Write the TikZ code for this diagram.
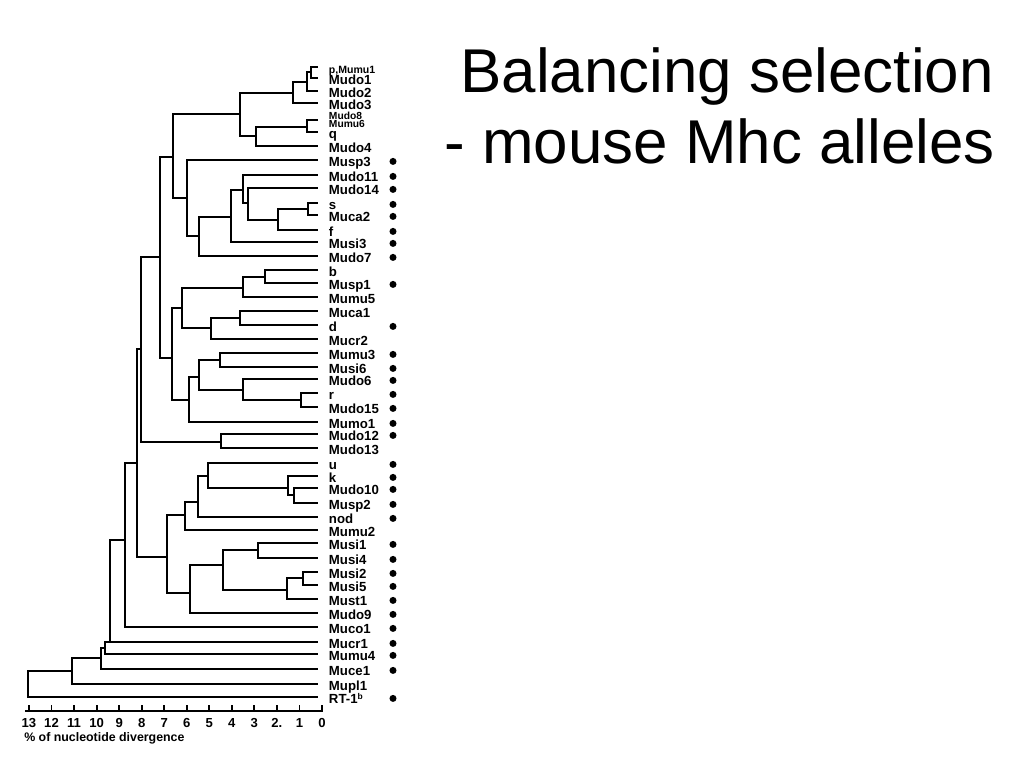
\documentclass[tikz,border=0pt]{standalone}
\usepackage{fontspec}
\setmainfont{Liberation Sans}
\begin{document}
\begin{tikzpicture}[
    x=0.025cm, y=-0.025cm,
    branch/.style={line width=1.3pt},
    leaf/.style={anchor=west, inner sep=0pt, outer xsep=7.8pt, text height=9pt, text depth=0pt, font=\fontsize{9.4}{10}\selectfont\bfseries},
    dotmark/.style={circle, fill, inner sep=0pt, minimum size=5pt, yshift=-1pt},
    ticklabel/.style={font=\fontsize{9.3}{10}\selectfont\bfseries, inner sep=0pt},
    titletext/.style={font=\fontsize{44}{50}\selectfont, inner sep=0pt}
]
\useasboundingbox (0,0) rectangle (1024,768);

\node[titletext, anchor=base east] (title1) at (994,93) {Balancing selection};
\node[titletext, anchor=base east] (title2) at (995,163) {- mouse Mhc alleles};

\node[leaf, font=\fontsize{7.5}{8}\selectfont\bfseries] (pMumu1) at (318,67) {p,Mumu1};
\node[leaf, align=left, text height=, text depth=, font=\fontsize{7.3}{5.9}\selectfont\bfseries] (Mudo8) at (318,120) {Mudo8\\Mumu6};
\node[leaf] (RT1b) at (318,697) {RT-1\raisebox{2.6pt}{\fontsize{6}{6}\selectfont b}};
\foreach \n/\y in {Mudo1/78, Mudo2/91, Mudo3/103, q/132, Mudo4/146, Musp3/160,
    Mudo11/175, Mudo14/188, s/203, Muca2/215, f/230, Musi3/242, Mudo7/256,
    b/270, Musp1/283, Mumu5/297, Muca1/311, d/325, Mucr2/339, Mumu3/353,
    Musi6/367, Mudo6/379, r/393, Mudo15/407, Mumo1/422, Mudo12/434, Mudo13/448,
    u/463, k/476, Mudo10/488, Musp2/503, nod/517, Mumu2/530, Musi1/543,
    Musi4/558, Musi2/572, Musi5/585, Must1/599, Mudo9/613, Muco1/627,
    Mucr1/642, Mumu4/654, Muce1/669, Mupl1/684}
    \node[leaf] (\n) at (318,\y) {\n};

\foreach \n/\x/\y in {a1/311/72, a2/307/82, a3/293/93, a4/307/127, a5/256/136, a6/240/114,
    b1/308/209, b2/278/220, b3/248/203, b4/243/190, b5/231/217, b6/199/236, b7/187/198, b8/173/157,
    c1/265/277, c2/243/288, c3/240/318, c4/211/328, c5/182/308, c6/220/360, c7/301/400,
    c8/243/390, c9/199/377, c10/189/400, c11/172/358, c12/221/442, d0/160/257, d1/141/349,
    e1/294/495, e2/288/488, e3/208/476, e4/198/502, e5/185/515, e6/167/557,
    f1/258/550, f2/303/578, f3/287/590, f4/223/565, f5/190/593,
    g1/137/463, g2/125/540, g3/110/642, g4/105/648, g5/101/658, g6/72/671, g7/28/684}
    \coordinate (\n) at (\x,\y);

\foreach \pa/\ca/\cb in {a1/pMumu1/Mudo1, a2/a1/Mudo2, a3/a2/Mudo3, a4/Mudo8/q, a5/a4/Mudo4, a6/a3/a5,
    b1/s/Muca2, b2/b1/f, b3/Mudo14/b2, b4/Mudo11/b3, b5/b4/Musi3, b6/b5/Mudo7, b7/Musp3/b6, b8/a6/b7,
    c1/b/Musp1, c2/c1/Mumu5, c3/Muca1/d, c4/c3/Mucr2, c5/c2/c4, c6/Mumu3/Musi6, c7/r/Mudo15,
    c8/Mudo6/c7, c9/c6/c8, c10/c9/Mumo1, c11/c5/c10, d0/b8/c11, c12/Mudo12/Mudo13, d1/d0/c12,
    e1/Mudo10/Musp2, e2/k/e1, e3/u/e2, e4/e3/nod, e5/e4/Mumu2,
    f1/Musi1/Musi4, f2/Musi2/Musi5, f3/f2/Must1, f4/f1/f3, f5/f4/Mudo9, e6/e5/f5,
    g1/d1/e6, g2/g1/Muco1, g3/g2/Mucr1, g4/g3/Mumu4, g5/g4/Muce1, g6/g5/Mupl1, g7/g6/RT1b}
    \draw[branch] (\pa) |- (\ca) (\pa) |- (\cb);

\foreach \n in {Musp3, Mudo11, Mudo14, s, Muca2, f, Musi3, Mudo7, Musp1, d, Mumu3, Musi6,
    Mudo6, r, Mudo15, Mumo1, Mudo12, u, k, Mudo10, Musp2, nod, Musi1, Musi4, Musi2,
    Musi5, Must1, Mudo9, Muco1, Mucr1, Mumu4, Muce1, RT1b}
    \node[dotmark] (dot\n) at (393,0 |- \n) {};

\draw[branch] (25,711) -- (323,711);
\foreach \k/\lab in {0/0, 1/1, 2/2., 3/3, 4/4, 5/5, 6/6, 7/7, 8/8, 9/9, 10/10, 11/11, 12/12, 13/13} {
    \draw[branch] ({322-22.54*\k},711) -- ++(0,-6);
    \node[ticklabel] (tick\k) at ({322-22.54*\k},723) {\lab};
}
\node[anchor=west, inner sep=0pt, font=\fontsize{8.8}{10}\selectfont\bfseries] (caption) at (24,738) {\% of nucleotide divergence};
\end{tikzpicture}
\end{document}
